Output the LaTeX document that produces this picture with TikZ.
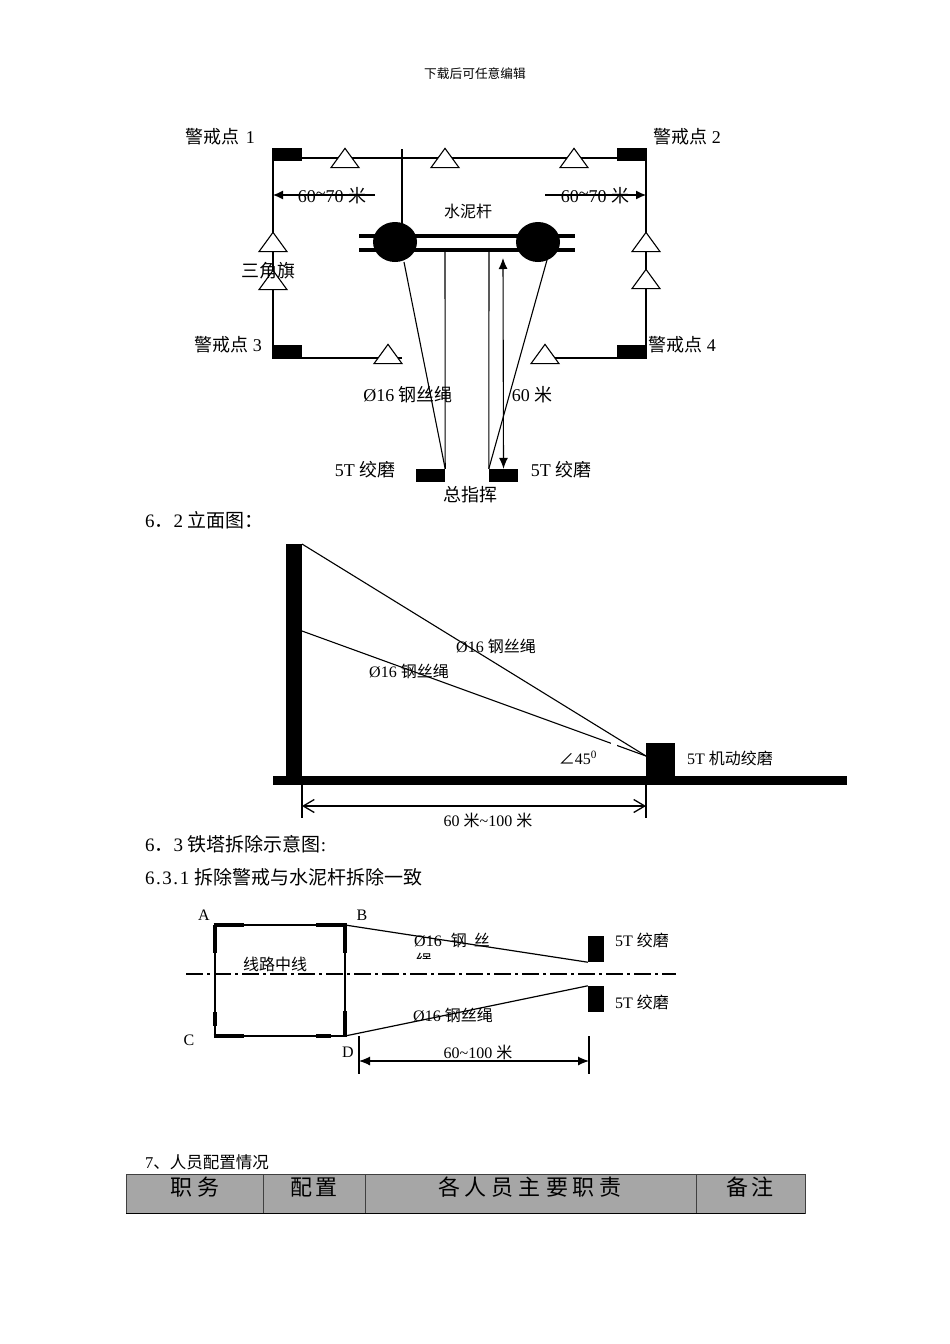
\documentclass[tikz,border=0pt]{standalone}
\usepackage{fontspec}
\setmainfont{Liberation Serif}
\newfontfamily\cjk{Noto Sans CJK SC}
\newcommand{\zh}[1]{{\cjk #1}}
\usetikzlibrary{arrows.meta}
\tikzset{
  lbl/.style={inner sep=0pt,font=\fontsize{18}{21}\selectfont},
  smalllbl/.style={inner sep=0pt,font=\fontsize{16}{19}\selectfont},
  seclbl/.style={inner sep=0pt,anchor=west,font=\fontsize{19}{22}\selectfont},
  headlbl/.style={inner sep=0pt,font=\fontsize{22}{26}\selectfont},
  blk/.style={fill=black,inner sep=0pt,minimum width=29pt,minimum height=13pt},
  flag/.style={draw,fill=white,isosceles triangle,shape border rotate=90,isosceles triangle apex angle=72,inner sep=0pt,minimum height=19pt,minimum width=28pt,line width=1.1pt},
  post/.style={fill=black,ellipse,inner sep=0pt,minimum width=44pt,minimum height=40pt},
  rope/.style={line width=1.1pt},
  thickseg/.style={line width=3.5pt},
  dim/.style={line width=1.1pt,{Latex[length=11pt,width=9pt]}-{Latex[length=11pt,width=9pt]}},
  cell/.style={draw=black!75,fill=black!35,line width=1pt}
}
\usetikzlibrary{shapes.geometric}
\begin{document}
\begin{tikzpicture}[x=1pt,y=-1pt]
  \useasboundingbox (0,0) rectangle (950,1344);
  \fill[white] (0,0) rectangle (950,1344);
  \node[smalllbl,font=\fontsize{12.7}{15}\selectfont] (head) at (475,74) {\zh{下载后可任意编辑}};

  % plan
  \node[blk] (g1) at (287.5,154.5) {};
  \node[blk] (g2) at (631.5,154.5) {};
  \node[blk] (g3) at (287.5,351.5) {};
  \node[blk] (g4) at (631.5,351.5) {};
  \coordinate (c1) at (273,148);
  \coordinate (c2) at (646,148);
  \coordinate (c3) at (273,358);
  \coordinate (c4) at (646,358);
  \coordinate (stubtop) at (402,149);
  \coordinate (stubend) at (402,225);
  \coordinate (bl) at (402,358);
  \draw[rope] (g1.east |- 0,158) -- (g2.west |- 0,158);
  \draw[rope] (c1) -- (c3) -- (bl);
  \draw[rope] (c2) -- (c4) -- (545,358);
  \draw[rope] (stubtop) -- (stubend);
  \foreach \x/\y/\n in {345/160.5/t1,445/160.5/t2,574/160.5/t3,273/244.5/t4,273/282.5/t5,646/244.5/t6,646/281.5/t7,388/356.5/t8,545/356.5/t9}
    \node[flag] (\n) at (\x,\y) {};

  \draw[line width=4pt] (359,236) -- (575,236);
  \draw[line width=4pt] (359,250) -- (575,250);
  \node[post] (p1) at (395,242) {};
  \node[post] (p2) at (538,242) {};
  \node[blk] (w1) at (430.5,475.5) {};
  \node[blk] (w2) at (503.5,475.5) {};
  \draw[rope] (404,262) -- (w1.north east);
  \draw[rope] (547,260) -- (w2.north west);
  \draw[rope] (445,250) -- (w1.north east);
  \draw[rope] (489,250) -- (w2.north west);
  \draw[dim] (503,258) -- (w2.north);
  \coordinate (dl) at (375,195);
  \coordinate (dr) at (545,195);
  \draw[rope,-{Latex[length=10pt,width=9pt]}] (dl) -- (c1 |- dl);
  \draw[rope,-{Latex[length=10pt,width=9pt]}] (dr) -- (c2 |- dr);

  \node[lbl] (l1) at (220,137) {\zh{警戒点} \hspace{2pt}1};
  \node[lbl] (l2) at (687,137) {\zh{警戒点} 2};
  \node[lbl] (l3) at (228,345) {\zh{警戒点} 3};
  \node[lbl] (l4) at (682,345) {\zh{警戒点} 4};
  \node[lbl] (l5) at (332,196) {60\raisebox{3pt}{\textasciitilde}70 \zh{米}};
  \node[lbl] (l6) at (595,196) {60\raisebox{3pt}{\textasciitilde}70 \zh{米}};
  \node[smalllbl] (l7) at (468,211) {\zh{水泥杆}};
  \node[lbl] (l8) at (268,271) {\zh{三角旗}};
  \node[lbl] (l9) at (408,395) {Ø16 \zh{钢丝绳}};
  \node[lbl] (l10) at (532,395) {60 \zh{米}};
  \node[lbl] (l11) at (365,470) {5T \zh{绞磨}};
  \node[lbl] (l12) at (561,470) {5T \zh{绞磨}};
  \node[lbl] (l13) at (470,495) {\zh{总指挥}};
  \node[seclbl] (s62) at (145,520) {6\zh{．}2 \zh{立面图：}};

  % elevation
  \fill (286,544) rectangle (302,781);
  \fill (273,776) rectangle (847,785);
  \node[blk,minimum height=33pt] (w3) at (660.5,759.5) {};
  \coordinate (pa) at (302,544);
  \coordinate (pb) at (302,631);
  \coordinate (wa) at (646,756);
  \coordinate (wb) at (646,756);
  \coordinate (tl) at (302,785);
  \coordinate (tr) at (646,785);
  \draw[rope] (pa) -- (wa);
  \draw[rope] (pb) -- (wb);
  \fill[white] (611,741) rectangle (617,748);
  \draw[rope] (tl) -- ++(0,33) coordinate (tlb);
  \draw[rope] (tr) -- ++(0,33) coordinate (trb);
  \draw[line width=1.3pt,{Straight Barb[length=11pt,width=13pt]}-{Straight Barb[length=11pt,width=13pt]}] (302,806) -- (646,806);
  \node[smalllbl] (l14) at (496,646) {Ø16 \zh{钢丝绳}};
  \node[smalllbl] (l15) at (409,671) {Ø16 \zh{钢丝绳}};
  \node[smalllbl] (l16) at (578,758) {\zh{∠}45\textsuperscript{0}};
  \node[smalllbl] (l17) at (730,758) {5T \zh{机动绞磨}};
  \node[smalllbl] (l18) at (488,820) {60 \zh{米}\textasciitilde100 \zh{米}};
  \node[seclbl] (s63) at (145,844) {6\zh{．}3 \zh{铁塔拆除示意图}:};
  \node[seclbl] (s631) at (145,877) {{\addfontfeatures{LetterSpace=8}6.3.1} \zh{拆除警戒与水泥杆拆除一致}};

  % top view
  \coordinate (A) at (215,925);
  \coordinate (B) at (345,925);
  \coordinate (C) at (215,1036);
  \coordinate (D) at (345,1036);
  \draw[rope] (A) -- (B) -- (D) -- (C) -- cycle;
  \draw[thickseg] (213.5,925) -- (244,925);
  \draw[thickseg] (316,925) -- (346.5,925);
  \draw[thickseg] (213.5,1036) -- (244,1036);
  \draw[thickseg] (316,1036) -- (331,1036);
  \draw[thickseg] (215,925) -- (215,953);
  \draw[thickseg] (345,925) -- (345,953);
  \draw[thickseg] (215,1012) -- (215,1026);
  \draw[thickseg] (345,1011) -- (345,1037);
  \draw[line width=1.1pt,dash pattern=on 17pt off 4pt on 3pt off 4pt] (186,974) -- (676,974);
  \node[blk,minimum width=16pt,minimum height=26pt] (w4) at (596,949) {};
  \node[blk,minimum width=16pt,minimum height=26pt] (w5) at (596,999) {};
  \draw[line width=1.2pt] (B) -- (w4.south west);
  \draw[line width=1.2pt] (D) -- (w5.north west);
  \coordinate (dma) at (359,1036);
  \coordinate (dmb) at (589,1036);
  \draw[rope] (dma) -- ++(0,38) coordinate (dmc);
  \draw[rope] (dmb) -- ++(0,38) coordinate (dmd);
  \draw[dim] (359,1061) -- (589,1061);
  \node[smalllbl] (A1) at (204,915) {A};
  \node[smalllbl] (B1) at (362,915) {B};
  \node[smalllbl] (C1) at (189,1040) {C};
  \node[smalllbl] (D1) at (348,1052) {D};
  \node[smalllbl] (l19) at (275,964) {\zh{线路中线}};
  \node[smalllbl] (l20) at (642,940) {5T \zh{绞磨}};
  \node[smalllbl] (l21) at (642,1002) {5T \zh{绞磨}};
  \node[smalllbl,anchor=west] (l22) at (414,940) {Ø16\hspace{9pt}\zh{钢}\hspace{7pt}\zh{丝}};
  \begin{scope}
    \clip (410,950) rectangle (440,958);
    \node[smalllbl] (l23) at (424,960) {\zh{绳}};
  \end{scope}
  \node[smalllbl] (l24) at (453,1015) {Ø16 \zh{钢丝绳}};
  \node[smalllbl] (l25) at (478,1052) {60\textasciitilde100 \zh{米}};

  % table
  \node[smalllbl,anchor=west,font=\fontsize{16.5}{19}\selectfont] (s7) at (145,1162) {7\zh{、人员配置情况}};
  \draw[cell] (126,1174) rectangle (263,1213);
  \draw[cell] (263,1174) rectangle (365,1213);
  \draw[cell] (365,1174) rectangle (696,1213);
  \draw[cell] (696,1174) rectangle (805,1213);
  \draw[line width=1pt] (126,1213) -- (805,1213);
  \node[headlbl] (h1) at (195,1187) {\zh{职\hspace{6pt}务}};
  \node[headlbl] (h2) at (314,1187) {\zh{配\hspace{4pt}置}};
  \node[headlbl] (h3) at (530,1187) {\zh{各\hspace{5pt}人\hspace{5pt}员\hspace{5pt}主\hspace{5pt}要\hspace{5pt}职\hspace{5pt}责}};
  \node[headlbl] (h4) at (750,1187) {\zh{备\hspace{4pt}注}};
\end{tikzpicture}
\end{document}
